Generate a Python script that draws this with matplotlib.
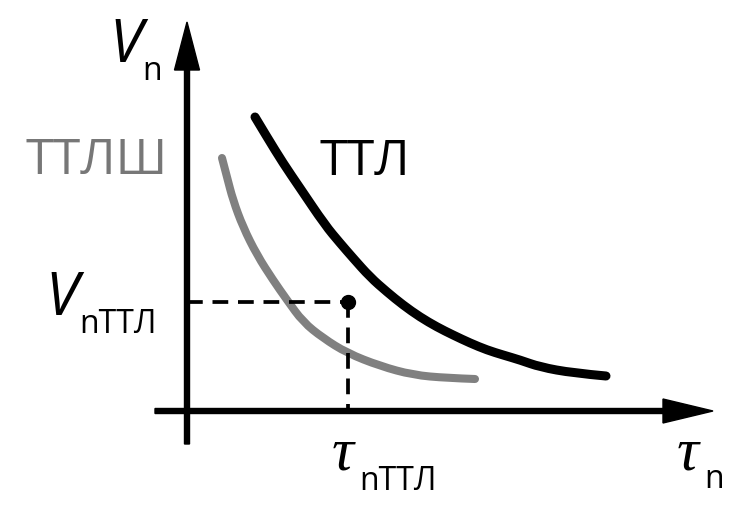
import matplotlib
matplotlib.use('Agg')
import matplotlib.pyplot as plt
from matplotlib.path import Path
from matplotlib.patches import PathPatch

# схема: задержка от напряжения питания (условные единицы, начало координат в пересечении осей)
ttl_tau = [68, 80, 96, 113, 138, 153, 166, 183, 200, 216, 233, 250, 266, 283, 300, 316, 333, 353, 386, 419]
ttl_v = [294, 274, 248, 223, 186, 168, 153, 134, 119, 106, 94, 84, 76, 68, 61, 56, 51, 44, 38, 35]

ttlsh_tau = [35, 40, 46, 56, 70, 86, 100, 116, 136, 160, 193, 226, 260, 288]
ttlsh_v = [253, 234, 211, 184, 156, 131, 111, 89, 73, 58, 45, 36, 33, 32]

point_tau = 161
point_v = 109


def smooth_curve(xs, ys, **kw):
    # точки как опорные для квадратичных кривых Безье, чтобы линия шла плавно
    verts = [(xs[0], ys[0])]
    codes = [Path.MOVETO]
    for i in range(1, len(xs) - 1):
        mx = (xs[i] + xs[i + 1]) / 2
        my = (ys[i] + ys[i + 1]) / 2
        if i == len(xs) - 2:
            mx, my = xs[-1], ys[-1]
        verts += [(xs[i], ys[i]), (mx, my)]
        codes += [Path.CURVE3, Path.CURVE3]
    patch = PathPatch(Path(verts, codes), fill=False, capstyle='round', joinstyle='round', **kw)
    ax.add_patch(patch)


fig = plt.figure(figsize=(7.46, 5.09), dpi=100)
ax = fig.add_axes([0, 0, 1, 1])
ax.set_xlim(-187, 559)
ax.set_ylim(-98, 411)
ax.axis('off')

# оси со стрелками
ax.arrow(-32, 0, 558, 0, width=5, head_width=24, head_length=50,
         length_includes_head=True, color='black')
ax.arrow(0, -33, 0, 422, width=5, head_width=25, head_length=48,
         length_includes_head=True, color='black')

# кривые
smooth_curve(ttlsh_tau, ttlsh_v, edgecolor='#808080', lw=5.8)
smooth_curve(ttl_tau, ttl_v, edgecolor='black', lw=6.5)

# пунктир к точке
ax.plot([0, point_tau], [point_v, point_v], color='black', lw=2.7, dashes=(4.2, 2.6))
ax.plot([point_tau, point_tau], [point_v, 0], color='black', lw=2.7, dashes=(4.2, 2.6))
ax.plot(point_tau, point_v, 'o', color='black', markersize=10)

# подписи
ax.text(133, 236, 'ТТЛ', fontsize=36, family='Open Sans', color='black')
ax.text(-162, 237, 'ТТЛШ', fontsize=36, family='Open Sans', color='#777777')

ax.text(-78, 349, 'V', fontsize=43, family='Open Sans', style='italic')
ax.text(-45, 331, 'n', fontsize=23, family='Open Sans')

ax.text(-142, 96, 'V', fontsize=43, family='Open Sans', style='italic')
ax.text(-108, 78, 'nТТЛ', fontsize=23, family='Open Sans')

ax.text(145, -59, 'τ', fontsize=44, family='Liberation Serif', style='italic')
ax.text(172, -79, 'nТТЛ', fontsize=23, family='Open Sans')

ax.text(490, -59, 'τ', fontsize=44, family='Liberation Serif', style='italic')
ax.text(517, -77, 'n', fontsize=23, family='Open Sans')

fig.savefig('out.png', dpi=100)
